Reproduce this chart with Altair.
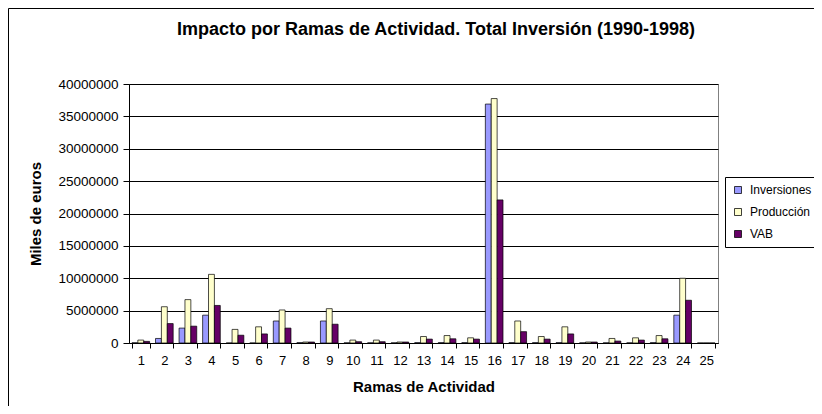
import altair as alt
import pandas as pd

ramas = [str(i) for i in range(1, 26)]
series = ["Inversiones", "Producción", "VAB"]
colors = ["#9999FF", "#FFFFCC", "#660066"]

inversiones = [30000, 700000, 2300000, 4300000, 0, 0, 3400000, 50000, 3400000, 20000,
               20000, 20000, 50000, 50000, 50000, 36900000, 50000, 50000, 50000, 20000,
               20000, 20000, 50000, 4300000, 0]
produccion = [450000, 5600000, 6700000, 10600000, 2100000, 2500000, 5100000, 150000, 5300000, 450000,
              450000, 150000, 1000000, 1150000, 800000, 37750000, 3400000, 1000000, 2500000, 150000,
              700000, 800000, 1150000, 10000000, 0]
vab = [250000, 3000000, 2600000, 5800000, 1200000, 1400000, 2300000, 150000, 2900000, 200000,
       200000, 150000, 600000, 650000, 600000, 22100000, 1750000, 600000, 1400000, 150000,
       300000, 450000, 650000, 6600000, 0]

y_ticks = [0, 5000000, 10000000, 15000000, 20000000, 25000000, 30000000, 35000000, 40000000]

title_text = "Impacto por Ramas de Actividad. Total Inversión (1990-1998)"

rows = []
for i, r in enumerate(ramas):
    rows.append({"rama": r, "serie": series[0], "valor": inversiones[i]})
    rows.append({"rama": r, "serie": series[1], "valor": produccion[i]})
    rows.append({"rama": r, "serie": series[2], "valor": vab[i]})
df = pd.DataFrame(rows)

FONT = "Liberation Sans"

bars = alt.Chart(df).mark_bar(stroke="black", strokeWidth=0.7).encode(
    x=alt.X("rama:N", sort=ramas,
            scale=alt.Scale(domain=ramas, paddingInner=0.25, paddingOuter=0.125),
            axis=alt.Axis(title="Ramas de Actividad", labelAngle=0, tickBand="extent",
                          tickSize=5, tickColor="black", domainColor="black",
                          labelPadding=6, titlePadding=12, grid=False,
                          labelFontSize=13, titleFontSize=15, titleFontWeight="bold",
                          labelColor="black", titleColor="black")),
    xOffset=alt.XOffset("serie:N", sort=series,
                        scale=alt.Scale(domain=series, paddingInner=0, paddingOuter=0)),
    y=alt.Y("valor:Q",
            scale=alt.Scale(domain=[0, 40000000], nice=False),
            axis=alt.Axis(title="Miles de euros", values=y_ticks, format="d",
                          tickSize=6, tickColor="black", domainColor="black",
                          gridColor="black", gridWidth=1, labelPadding=5, titlePadding=14,
                          labelFontSize=13.5, titleFontSize=15, titleFontWeight="bold",
                          labelColor="black", titleColor="black")),
    color=alt.Color("serie:N", sort=series,
                    scale=alt.Scale(domain=series, range=colors),
                    legend=alt.Legend(title=None, orient="none", legendX=596, legendY=93,
                                      symbolType="square", symbolSize=49,
                                      symbolStrokeColor="black", symbolStrokeWidth=0.75,
                                      labelFontSize=12, labelColor="black", labelOffset=6,
                                      rowPadding=10, padding=7, labelLimit=200,
                                      strokeColor="black", fillColor="white")),
)

deco = pd.DataFrame({"k": [0]})
frame_left = alt.Chart(deco).mark_rule(color="black", strokeWidth=1).encode(
    x=alt.value(-120.5), y=alt.value(-75.5), y2=alt.value(340))
frame_top = alt.Chart(deco).mark_rule(color="black", strokeWidth=1).encode(
    x=alt.value(-120.5), x2=alt.value(720), y=alt.value(-75.5))
title = alt.Chart(deco).mark_text(font=FONT, fontSize=18, fontWeight="bold",
                                  color="black", align="center", baseline="middle").encode(
    x=alt.value(307), y=alt.value(-54), text=alt.value(title_text))

chart = alt.layer(frame_left, frame_top, title, bars).properties(
    width=589, height=259,
    autosize=alt.AutoSizeParams(type="none"),
    padding={"left": 121, "top": 76, "right": 96, "bottom": 63},
).configure(
    font=FONT, background="white"
).configure_view(
    stroke="#808080", strokeWidth=1
)

chart.save("out.html", embed_options={"renderer": "svg", "actions": False})
